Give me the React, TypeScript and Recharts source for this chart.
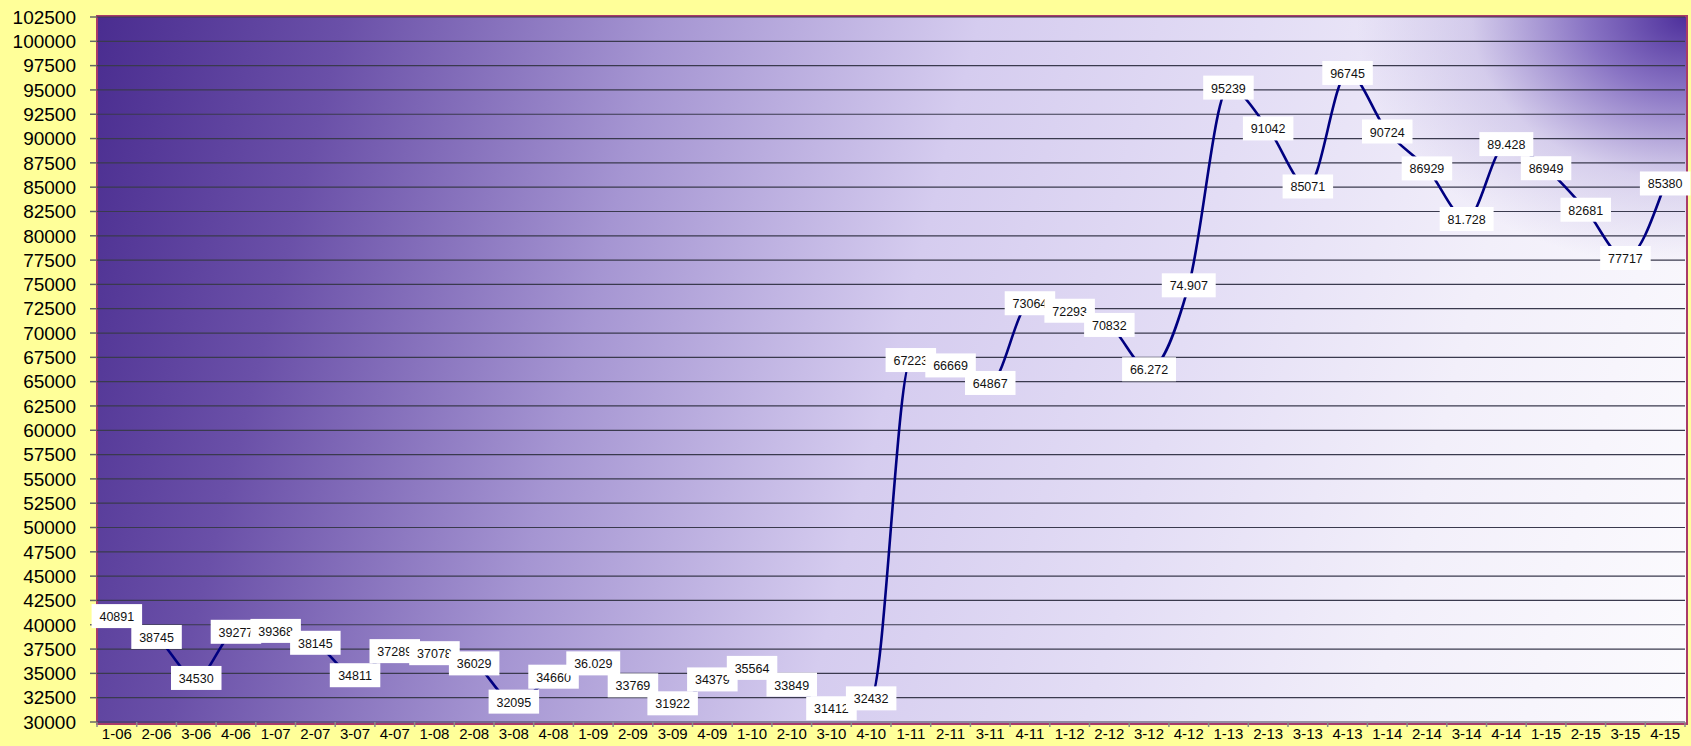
import React from "react";
import {
  LineChart,
  Line,
  XAxis,
  YAxis,
  CartesianGrid,
  LabelList,
} from "recharts";

const quarters = [
  "1-06", "2-06", "3-06", "4-06",
  "1-07", "2-07", "3-07", "4-07",
  "1-08", "2-08", "3-08", "4-08",
  "1-09", "2-09", "3-09", "4-09",
  "1-10", "2-10", "3-10", "4-10",
  "1-11", "2-11", "3-11", "4-11",
  "1-12", "2-12", "3-12", "4-12",
  "1-13", "2-13", "3-13", "4-13",
  "1-14", "2-14", "3-14", "4-14",
  "1-15", "2-15", "3-15", "4-15",
];

const values = [
  40891, 38745, 34530, 39277,
  39368, 38145, 34811, 37289,
  37078, 36029, 32095, 34660,
  36029, 33769, 31922, 34379,
  35564, 33849, 31412, 32432,
  67223, 66669, 64867, 73064,
  72293, 70832, 66272, 74907,
  95239, 91042, 85071, 96745,
  90724, 86929, 81728, 89428,
  86949, 82681, 77717, 85380,
];

// label text as printed on the chart (some use a dot separator)
const valueLabels = [
  "40891", "38745", "34530", "39277",
  "39368", "38145", "34811", "37289",
  "37078", "36029", "32095", "34660",
  "36.029", "33769", "31922", "34379",
  "35564", "33849", "31412", "32432",
  "67223", "66669", "64867", "73064",
  "72293", "70832", "66.272", "74.907",
  "95239", "91042", "85071", "96745",
  "90724", "86929", "81.728", "89.428",
  "86949", "82681", "77717", "85380",
];

const yTicks = [
  30000, 32500, 35000, 37500, 40000, 42500, 45000, 47500, 50000, 52500,
  55000, 57500, 60000, 62500, 65000, 67500, 70000, 72500, 75000, 77500,
  80000, 82500, 85000, 87500, 90000, 92500, 95000, 97500, 100000, 102500,
];

const data = quarters.map((q, i) => ({ q, v: values[i], label: valueLabels[i] }));

const W = 1691;
const H = 746;
const PLOT_LEFT = 97;
const PLOT_TOP = 17;
const PLOT_RIGHT = 1685;
const X_AXIS_H = 24;
const PLOT_BOTTOM = H - X_AXIS_H;
const HALF_BAND = (PLOT_RIGHT - PLOT_LEFT) / quarters.length / 2;

const FONT = "'Liberation Sans', Arial, sans-serif";

const XTick = (props: any) => {
  const { x, payload, index } = props;
  const y = PLOT_BOTTOM;
  return (
    <g>
      <line x1={x - HALF_BAND} x2={x - HALF_BAND} y1={y} y2={y + 5} stroke="#8a8a8a" strokeWidth={1.5} />
      {index === quarters.length - 1 && (
        <line x1={x + HALF_BAND} x2={x + HALF_BAND} y1={y} y2={y + 5} stroke="#8a8a8a" strokeWidth={1.5} />
      )}
      <text x={x} y={y + 11} textAnchor="middle" dominantBaseline="central" fontSize={15} fontFamily={FONT} fill="#000">
        {payload.value}
      </text>
    </g>
  );
};

const BoxLabel = (props: any) => {
  const { x, y, index } = props;
  const text = valueLabels[index];
  const dots = (text.match(/\./g) || []).length;
  const w = (text.length - dots) * 6.9 + dots * 3.4 + 16;
  const h = 24;
  return (
    <g>
      <rect x={x - w / 2} y={y - h / 2} width={w} height={h} fill="#ffffff" />
      <text x={x} y={y + 1} textAnchor="middle" dominantBaseline="central" fontSize={12.5} fontFamily={FONT} fill="#111">
        {text}
      </text>
    </g>
  );
};

export default function App() {
  return (
    <div
      style={{
        position: "absolute",
        left: 0,
        top: 0,
        width: W,
        height: H,
        background: "#ffff99",
        overflow: "hidden",
      }}
    >
      <div
        style={{
          position: "absolute",
          left: PLOT_LEFT - 1,
          top: PLOT_TOP - 2,
          width: PLOT_RIGHT - PLOT_LEFT,
          height: PLOT_BOTTOM - PLOT_TOP + 1,
          border: "2.5px solid #a83a6a",
          background:
            "radial-gradient(ellipse 330px 250px at 100% 0%, rgba(78,48,156,1) 0%, rgba(110,84,182,0.8) 30%, rgba(170,155,215,0.4) 65%, rgba(220,212,244,0) 100%), " +
            "linear-gradient(104deg, #4a2d90 0%, #6a50a8 14%, #a595d2 32%, #d5ccef 50%, #e3ddf5 66%, #f2effa 82%, #fcfbfe 100%)",
        }}
      />
      <div style={{ position: "absolute", left: 0, top: 0 }}>
        <LineChart
          width={W}
          height={H}
          data={data}
          margin={{ top: PLOT_TOP, right: W - PLOT_RIGHT, bottom: 0, left: 0 }}
        >
          <CartesianGrid horizontal vertical={false} stroke="#3a3a4e" strokeWidth={1.2} />
          <XAxis
            dataKey="q"
            scale="band"
            height={X_AXIS_H}
            interval={0}
            axisLine={false}
            tickLine={false}
            tick={<XTick />}
          />
          <YAxis
            width={PLOT_LEFT}
            domain={[30000, 102500]}
            ticks={yTicks}
            interval={0}
            axisLine={false}
            tickSize={7}
            tickMargin={14}
            tickLine={{ stroke: "#666", strokeWidth: 1.5 }}
            tick={{ fontSize: 19, fontFamily: FONT, fill: "#000" }}
          />
          <Line
            type="monotone"
            dataKey="v"
            stroke="#000080"
            strokeWidth={2.6}
            dot={false}
            isAnimationActive={false}
          >
            <LabelList dataKey="label" content={<BoxLabel />} />
          </Line>
        </LineChart>
      </div>
    </div>
  );
}
